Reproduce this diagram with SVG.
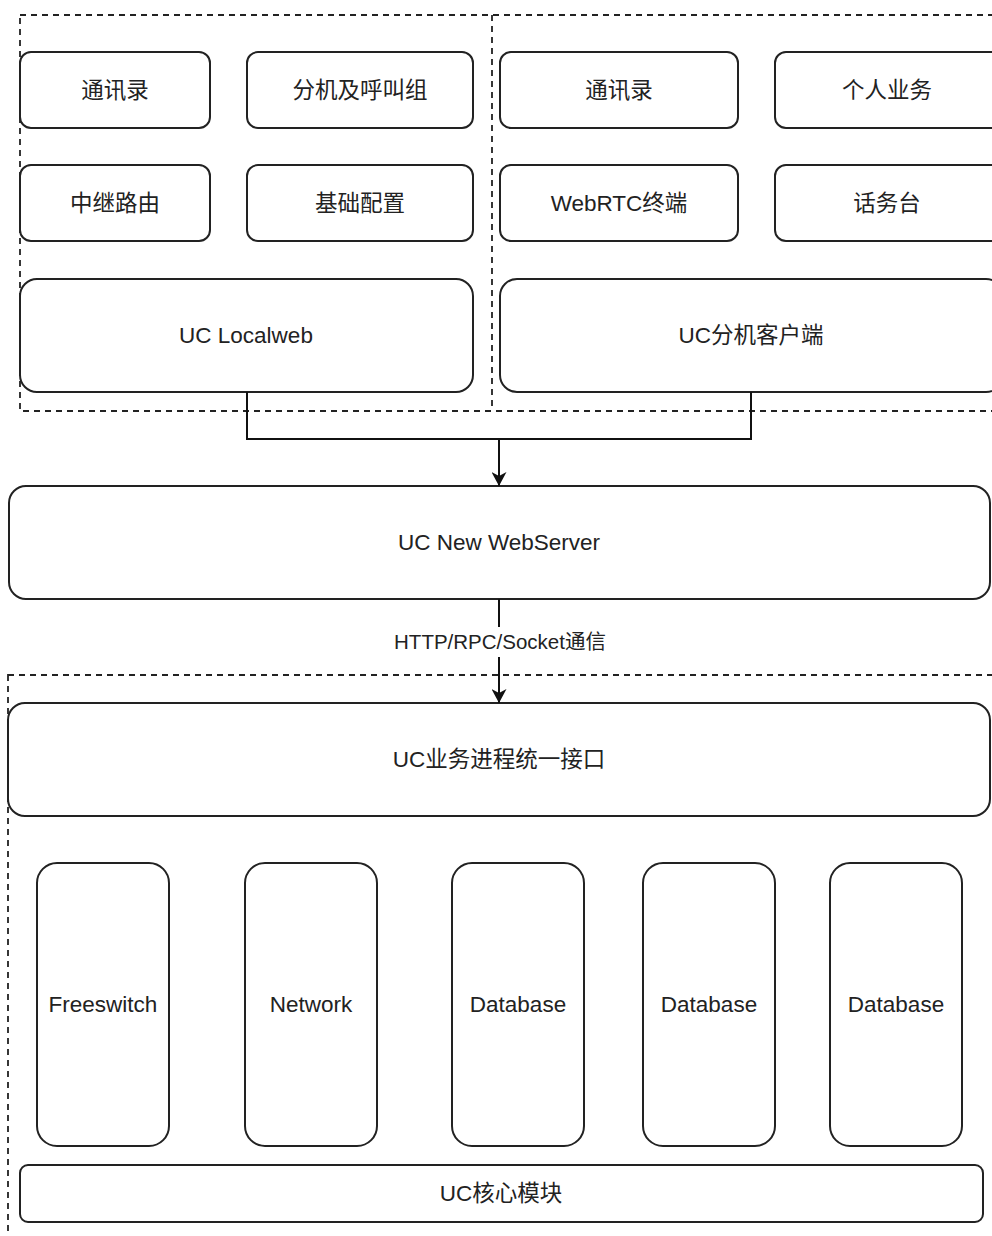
<svg xmlns="http://www.w3.org/2000/svg" width="992" height="1236" viewBox="0 0 992 1236">
  <style>
    .box { fill: #ffffff; stroke: #222222; stroke-width: 2; }
    .group { fill: none; stroke: #222222; stroke-width: 1.8; stroke-dasharray: 6 5; }
    .edge { fill: none; stroke: #111111; stroke-width: 2; }
    text { font-family: "Liberation Sans", Arial, "Noto Sans CJK SC", sans-serif; font-size: 22.5px; fill: #222222; text-anchor: middle; dominant-baseline: central; }
    .lbl { font-size: 20.5px; }
  </style>
  <defs>
    <marker id="arrow" viewBox="0 0 14 15" refX="14" refY="7.5" markerWidth="14" markerHeight="15" markerUnits="userSpaceOnUse" orient="auto">
      <path d="M0,0 L14,7.5 L0,15 L4,7.5 Z" fill="#111111"/>
    </marker>
  </defs>

  <!-- dashed containers -->
  <g id="front-container">
    <rect class="group" x="20" y="15" width="1000" height="396"/>
    <line class="group" x1="492" y1="15" x2="492" y2="411"/>
  </g>
  <g id="core-container">
    <rect class="group" x="8" y="675" width="1020" height="600"/>
  </g>

  <!-- left column: Localweb -->
  <g id="lw-contacts"><rect class="box" x="20" y="52" width="190" height="76" rx="11"/><text x="115" y="90">通讯录</text></g>
  <g id="lw-extension"><rect class="box" x="247" y="52" width="226" height="76" rx="11"/><text x="360" y="90">分机及呼叫组</text></g>
  <g id="lw-trunk"><rect class="box" x="20" y="165" width="190" height="76" rx="11"/><text x="115" y="203">中继路由</text></g>
  <g id="lw-basic"><rect class="box" x="247" y="165" width="226" height="76" rx="11"/><text x="360" y="203">基础配置</text></g>
  <g id="localweb"><rect class="box" x="20" y="279" width="453" height="113" rx="17"/><text x="246" y="335">UC Localweb</text></g>

  <!-- right column: extension client -->
  <g id="cl-contacts"><rect class="box" x="500" y="52" width="238" height="76" rx="11"/><text x="619" y="90">通讯录</text></g>
  <g id="cl-personal"><rect class="box" x="775" y="52" width="238" height="76" rx="11"/><text x="887" y="90">个人业务</text></g>
  <g id="cl-webrtc"><rect class="box" x="500" y="165" width="238" height="76" rx="11"/><text x="619" y="203">WebRTC终端</text></g>
  <g id="cl-console"><rect class="box" x="775" y="165" width="238" height="76" rx="11"/><text x="887" y="203">话务台</text></g>
  <g id="client"><rect class="box" x="500" y="279" width="503" height="113" rx="17"/><text x="751" y="335">UC分机客户端</text></g>

  <!-- server -->
  <g id="webserver"><rect class="box" x="9" y="486" width="981" height="113" rx="17"/><text x="499" y="542">UC New WebServer</text></g>

  <!-- core -->
  <g id="unified-api"><rect class="box" x="8" y="703" width="982" height="113" rx="17"/><text x="499" y="759">UC业务进程统一接口</text></g>
  <g id="freeswitch"><rect class="box" x="37" y="863" width="132" height="283" rx="20"/><text x="103" y="1004">Freeswitch</text></g>
  <g id="network"><rect class="box" x="245" y="863" width="132" height="283" rx="20"/><text x="311" y="1004">Network</text></g>
  <g id="database-1"><rect class="box" x="452" y="863" width="132" height="283" rx="20"/><text x="518" y="1004">Database</text></g>
  <g id="database-2"><rect class="box" x="643" y="863" width="132" height="283" rx="20"/><text x="709" y="1004">Database</text></g>
  <g id="database-3"><rect class="box" x="830" y="863" width="132" height="283" rx="20"/><text x="896" y="1004">Database</text></g>
  <g id="core-module"><rect class="box" x="20" y="1165" width="963" height="57" rx="8"/><text x="501" y="1193">UC核心模块</text></g>

  <!-- connectors -->
  <g id="connectors">
    <polyline class="edge" points="247,392 247,439 751,439 751,392"/>
    <line class="edge" x1="499" y1="439" x2="499" y2="486" marker-end="url(#arrow)"/>
    <line class="edge" x1="499" y1="599" x2="499" y2="703" marker-end="url(#arrow)"/>
    <rect x="390" y="627" width="220" height="30" fill="#ffffff"/>
    <text class="lbl" x="500" y="641">HTTP/RPC/Socket通信</text>
  </g>
</svg>
